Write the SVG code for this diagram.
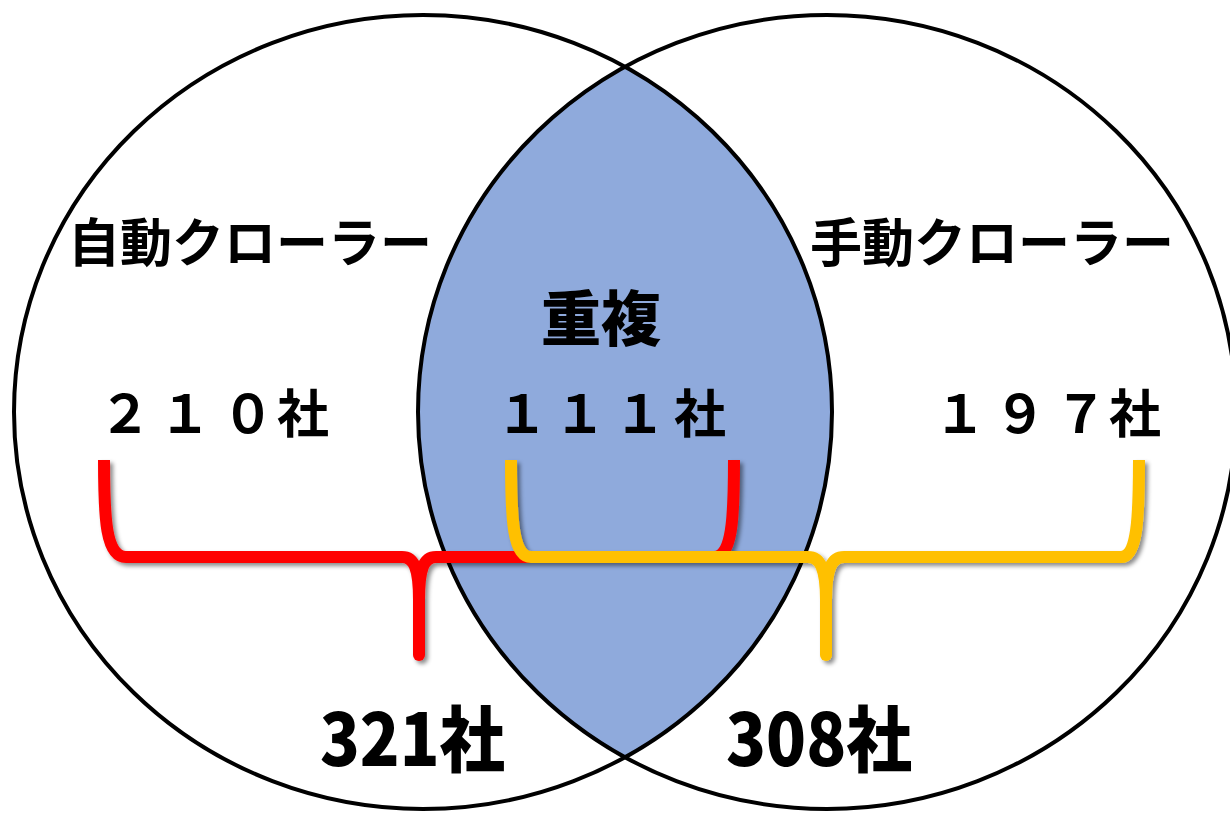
<svg xmlns="http://www.w3.org/2000/svg" width="1230" height="813" viewBox="0 0 1230 813">
<style>
.ring{fill:none;stroke:#000;stroke-width:4}
.lbl{font-family:"Noto Sans CJK JP","Noto Sans CJK SC",sans-serif;font-weight:700;fill:#000}
.big{font-size:52px}
.head{font-size:60px;font-weight:900}
.tot{font-size:72px;font-weight:900}
.brace{fill:none;stroke-width:12;stroke-linecap:butt;stroke-linejoin:round}
.tip{fill:none;stroke-width:12;stroke-linecap:round}
</style>
<defs>
<clipPath id="clipL"><ellipse cx="423" cy="412" rx="409" ry="397"/></clipPath>
<filter id="sh" x="-5%" y="-5%" width="110%" height="120%"><feDropShadow dx="3" dy="3" stdDeviation="2" flood-color="#000" flood-opacity="0.45"/></filter>
</defs>
<rect width="1230" height="813" fill="#fff"/>
<g id="auto">
<ellipse cx="423" cy="412" rx="409" ry="397" fill="#fff"/>
</g>
<g id="manual">
<ellipse cx="827" cy="412" rx="409" ry="397" fill="#fff"/>
</g>
<g id="overlap">
<ellipse cx="827" cy="412" rx="409" ry="397" fill="#8FAADC" clip-path="url(#clipL)"/>
</g>
<ellipse class="ring" cx="423" cy="412" rx="409" ry="397"/>
<ellipse class="ring" cx="827" cy="412" rx="409" ry="397"/>
<g id="labels">
<text class="lbl big" x="68" y="262">自動クローラー</text>
<text class="lbl big" x="99 159 222 277" y="433">２１０社</text>
<text class="lbl big" x="810" y="262">手動クローラー</text>
<text class="lbl big" x="934 994 1055 1109" y="433">１９７社</text>
<text class="lbl head" x="541" y="341">重複</text>
<text class="lbl big" x="496 554 614 674" y="433">１１１社</text>
<text class="lbl tot" x="320" y="766" textLength="185" lengthAdjust="spacingAndGlyphs">321社</text>
<text class="lbl tot" x="726" y="766" textLength="186" lengthAdjust="spacingAndGlyphs">308社</text>
</g>
<g id="connectors" filter="url(#sh)">
<g stroke="#FF0000">
<path class="brace" d="M104,460 C104,520 106,557 126,557 L402,557 C414,557 419,568 419,600 M419,600 C419,568 424,557 436,557 L714,557 C732,557 734,520 734,460"/>
<path class="tip" d="M419,598 L419,655"/>
</g>
<g stroke="#FFC000">
<path class="brace" d="M511,460 C511,520 513,557 531,557 L808,557 C820,557 826,568 826,600 M826,600 C826,568 832,557 844,557 L1121,557 C1137,557 1139,520 1139,460"/>
<path class="tip" d="M826,598 L826,655"/>
</g>
</g>
</svg>
